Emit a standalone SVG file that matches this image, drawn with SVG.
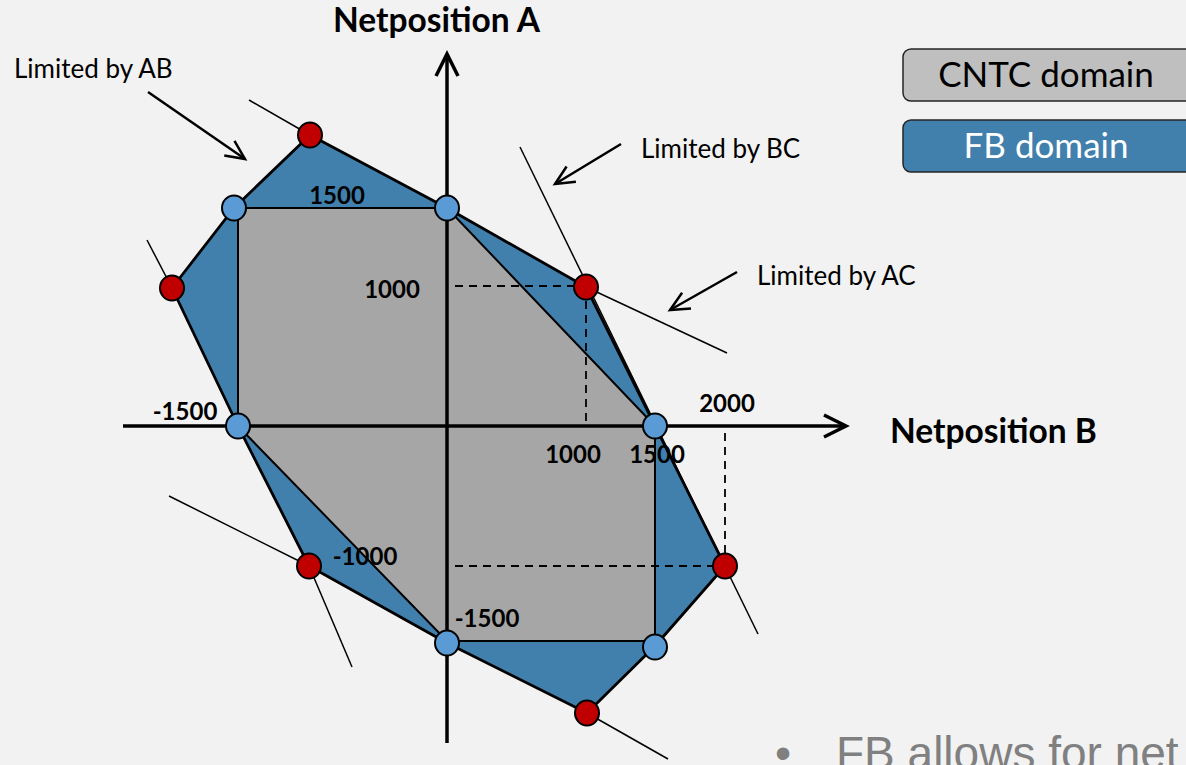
<svg xmlns="http://www.w3.org/2000/svg" width="1186" height="765" viewBox="0 0 1186 765">
  <defs>
    <style>
      .bg { fill: #f2f2f2; }
      .fb { fill: #4180ad; stroke: #000; stroke-width: 2.8; stroke-linejoin: round; }
      .cntc { fill: #a6a6a6; stroke: #000; stroke-width: 2; stroke-linejoin: round; }
      .thin { fill: none; stroke: #000; stroke-width: 1.5; }
      .dash { fill: none; stroke: #000; stroke-width: 1.8; stroke-dasharray: 8 6; }
      .axis { fill: none; stroke: #000; stroke-width: 3.5; }
      .note-arrow { fill: none; stroke: #000; stroke-width: 2.5; }
      .pt-blue { fill: #5b9bd5; stroke: #000; stroke-width: 2; }
      .pt-red { fill: #c00000; stroke: #000; stroke-width: 2; }
      .num { font-family: Lato, "Open Sans", sans-serif; font-weight: bold; font-size: 24px; fill: #000; text-anchor: middle; }
      .axis-title { font-family: Lato, "Open Sans", sans-serif; font-weight: bold; font-size: 33.5px; fill: #000; }
      .note { font-family: Lato, "Open Sans", sans-serif; font-size: 26px; fill: #000; }
      .legend-box { stroke: #262626; stroke-width: 1.5; }
      .legend-text { font-family: Lato, "Open Sans", sans-serif; font-size: 35px; text-anchor: middle; }
      .bullet { font-family: "Liberation Sans", Arial, sans-serif; font-size: 46px; fill: #808080; }
    </style>
    <marker id="axisHead" markerUnits="userSpaceOnUse" viewBox="-26 -14 28 28" markerWidth="28" markerHeight="28" refX="0" refY="0" orient="auto" overflow="visible">
      <path d="M-22,-11 L0,0 L-22,11" fill="none" stroke="#000" stroke-width="3.5"/>
    </marker>
    <marker id="noteHead" markerUnits="userSpaceOnUse" viewBox="-22 -12 24 24" markerWidth="24" markerHeight="24" refX="0" refY="0" orient="auto" overflow="visible">
      <path d="M-19,-9 L0,0 L-19,9" fill="none" stroke="#000" stroke-width="2.5"/>
    </marker>
  </defs>

  <rect class="bg" x="0" y="0" width="1186" height="765"/>

  <!-- flow-based domain (outer polygon) -->
  <g id="fb-domain">
    <polygon class="fb" points="310,135 447,208 586,287 655,426 725,566 655,646 587,713 447,643 309,566 238,426 172,288 234,208"/>
  </g>

  <!-- coordinated NTC domain (inner polygon) -->
  <g id="cntc-domain">
    <polygon class="cntc" points="238,208 447,208 655,426 655,641 447,641 238,426"/>
  </g>

  <!-- constraint lines, axes, guides and pointer arrows -->
  <g id="connectors">
    <line class="thin" x1="249" y1="100" x2="310" y2="135"/>
    <line class="thin" x1="586" y1="287" x2="727" y2="353"/>
    <line class="thin" x1="520" y1="147" x2="758" y2="634"/>
    <line class="thin" x1="147" y1="240" x2="172" y2="288"/>
    <line class="thin" x1="309" y1="566" x2="352" y2="667"/>
    <line class="thin" x1="169" y1="496" x2="309" y2="566"/>
    <line class="thin" x1="587" y1="713" x2="668" y2="759"/>

    <line class="dash" x1="455" y1="286" x2="586" y2="286"/>
    <line class="dash" x1="586" y1="287" x2="586" y2="421"/>
    <line class="dash" x1="725" y1="433" x2="725" y2="566"/>
    <line class="dash" x1="455" y1="566" x2="725" y2="566"/>

    <line class="axis" x1="447" y1="743" x2="447" y2="54" marker-end="url(#axisHead)"/>
    <line class="axis" x1="123" y1="426" x2="846" y2="426" marker-end="url(#axisHead)"/>

    <line class="note-arrow" x1="148" y1="92" x2="245" y2="159" marker-end="url(#noteHead)"/>
    <line class="note-arrow" x1="621" y1="144" x2="555" y2="184" marker-end="url(#noteHead)"/>
    <line class="note-arrow" x1="737" y1="272" x2="670" y2="310" marker-end="url(#noteHead)"/>
  </g>

  <!-- vertices -->
  <g id="v-top-red"><ellipse class="pt-red" cx="310" cy="135" rx="12" ry="12.5"/></g>
  <g id="v-top-left-blue"><ellipse class="pt-blue" cx="234" cy="208" rx="12" ry="12.5"/></g>
  <g id="v-top-axis-blue"><ellipse class="pt-blue" cx="447" cy="208" rx="12" ry="12.5"/></g>
  <g id="v-right-red"><ellipse class="pt-red" cx="586" cy="287" rx="12" ry="12.5"/></g>
  <g id="v-right-axis-blue"><ellipse class="pt-blue" cx="655" cy="426" rx="12" ry="12.5"/></g>
  <g id="v-lower-right-red"><ellipse class="pt-red" cx="725" cy="566" rx="12" ry="12.5"/></g>
  <g id="v-lower-right-blue"><ellipse class="pt-blue" cx="655" cy="647" rx="12" ry="12.5"/></g>
  <g id="v-bottom-red"><ellipse class="pt-red" cx="587" cy="713" rx="12" ry="12.5"/></g>
  <g id="v-bottom-axis-blue"><ellipse class="pt-blue" cx="447" cy="643" rx="12" ry="12.5"/></g>
  <g id="v-lower-left-red"><ellipse class="pt-red" cx="309" cy="566" rx="12" ry="12.5"/></g>
  <g id="v-left-axis-blue"><ellipse class="pt-blue" cx="238" cy="426" rx="12" ry="12.5"/></g>
  <g id="v-left-red"><ellipse class="pt-red" cx="172" cy="288" rx="12" ry="12.5"/></g>

  <!-- tick values -->
  <g id="values">
    <text class="num" x="337" y="204">1500</text>
    <text class="num" x="392" y="298">1000</text>
    <text class="num" x="185" y="420">-1500</text>
    <text class="num" x="727" y="412">2000</text>
    <text class="num" x="573" y="463">1000</text>
    <text class="num" x="657" y="463">1500</text>
    <text class="num" x="365" y="565">-1000</text>
    <text class="num" x="487" y="627">-1500</text>
  </g>

  <!-- axis titles -->
  <g id="title-a"><text class="axis-title" x="333" y="32">Netposition A</text></g>
  <g id="title-b"><text class="axis-title" x="890" y="443">Netposition B</text></g>

  <!-- constraint notes -->
  <g id="note-ab"><text class="note" x="14" y="78">Limited by AB</text></g>
  <g id="note-bc"><text class="note" x="641" y="158">Limited by BC</text></g>
  <g id="note-ac"><text class="note" x="757" y="285">Limited by AC</text></g>

  <!-- legend -->
  <g id="legend-cntc">
    <rect class="legend-box" x="903" y="49" width="290" height="52" rx="8" fill="#bfbfbf"/>
    <text class="legend-text" x="1046" y="87" fill="#000">CNTC domain</text>
  </g>
  <g id="legend-fb">
    <rect class="legend-box" x="903" y="120" width="290" height="52" rx="8" fill="#4180ad"/>
    <text class="legend-text" x="1046" y="158" fill="#fff">FB domain</text>
  </g>

  <!-- bullet text, running past the lower edge -->
  <g id="bullet-line">
    <text class="bullet" x="783" y="769" text-anchor="middle">•</text>
    <text class="bullet" x="836" y="769">FB allows for net</text>
  </g>
</svg>
